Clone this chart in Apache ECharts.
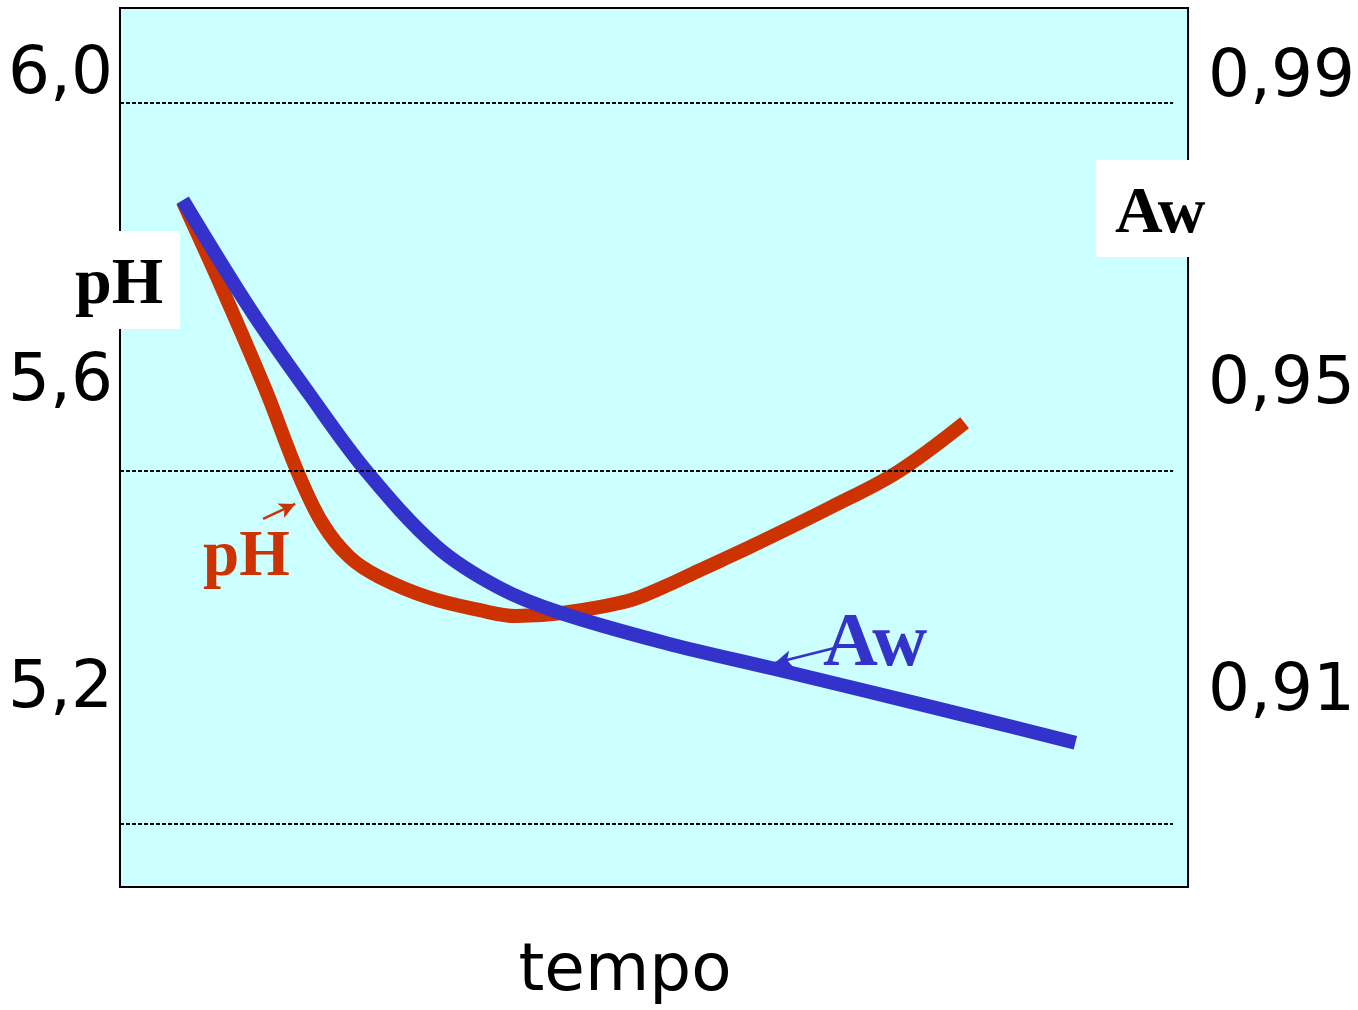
<!DOCTYPE html>
<html>
<head>
<meta charset="utf-8">
<script src="https://cdn.jsdelivr.net/npm/echarts@6/dist/echarts.min.js"></script>
<style>
html,body{margin:0;padding:0;background:#fff;}
#chart{width:1358px;height:1010px;}
</style>
</head>
<body>
<div id="chart"></div>
<script>
// time axis (arbitrary units 0..100)
const phTime = [5.88, 9.62, 13.63, 16.62, 18.95, 21.48, 24.28, 28.94, 33.61, 37.07, 41.36, 47.62, 51.07, 54.15, 58.82, 66.57, 72.83, 79.08];
const phValues = [5.831, 5.716, 5.586, 5.479, 5.412, 5.368, 5.342, 5.315, 5.299, 5.291, 5.295, 5.311, 5.330, 5.350, 5.380, 5.433, 5.479, 5.543];
const awTime = [5.88, 12.42, 17.74, 23.06, 29.69, 35.48, 41.08, 51.07, 61.34, 69.09, 79.37, 89.45];
const awValues = [0.9737, 0.9590, 0.9484, 0.9384, 0.9285, 0.9232, 0.9200, 0.9160, 0.9126, 0.9100, 0.9065, 0.9030];
const phTicks = [5.2, 5.6, 6.0];
const awTicks = [0.91, 0.95, 0.99];
const gridLevels = [5.96, 5.48, 5.02];
const phArrow = [[13.4, 5.4176], [16.4, 5.4371]];
const awArrow = [[66.9, 0.91534], [61.3, 0.91339]];

const RED = '#CC3300', BLUE = '#3333CC';
const SERIF = '"Liberation Serif", "Times New Roman", Times, serif';
const tickRich = {t: {fontFamily: 'DejaVu Sans', fontSize: 66, color: '#000', padding: [8, 0, 0, 0]}};

const chart = echarts.init(document.getElementById('chart'));
chart.setOption({
  animation: false,
  backgroundColor: '#ffffff',
  grid: {left: 120, top: 8, width: 1071, height: 879, show: true,
         backgroundColor: '#CCFFFF', borderColor: '#000', borderWidth: 2},
  xAxis: {type: 'value', min: 0, max: 100, axisLine: {show: false}, axisTick: {show: false},
          axisLabel: {show: false}, splitLine: {show: false}},
  yAxis: [
    {type: 'value', min: 4.938, max: 6.0834, position: 'left',
     axisLine: {show: false}, axisTick: {show: false}, splitLine: {show: false},
     axisLabel: {customValues: phTicks, margin: 7, color: '#000',
                 fontFamily: 'DejaVu Sans', fontSize: 66, rich: tickRich,
                 formatter: v => '{t|' + v.toFixed(1).replace('.', ',') + '}'}},
    {type: 'value', min: 0.8842, max: 0.99873, position: 'right',
     axisLine: {show: false}, axisTick: {show: false}, splitLine: {show: false},
     axisLabel: {customValues: awTicks, margin: 20, color: '#000',
                 fontFamily: 'DejaVu Sans', fontSize: 66, rich: tickRich,
                 formatter: v => '{t|' + v.toFixed(2).replace('.', ',') + '}'}}
  ],
  series: [
    {type: 'line', yAxisIndex: 0, smooth: 0.35, symbol: 'none',
     lineStyle: {color: RED, width: 14, cap: 'butt'},
     data: phTime.map((t, i) => [t, phValues[i]]),
     markLine: {silent: true, symbol: 'none', label: {show: false},
       data: gridLevels.map(g => [{coord: [0, g], lineStyle: {color: '#000', width: 2, type: [4, 2]}}, {coord: [98.6, g]}])
         .concat([[{coord: phArrow[0], symbol: 'none'}, {coord: phArrow[1], symbol: 'arrow', symbolSize: [12, 16], lineStyle: {color: RED, width: 2.5, type: 'solid'}}]]),
       lineStyle: {color: '#000', width: 2, type: [4, 2]}}
    },
    {type: 'line', yAxisIndex: 1, smooth: 0.35, symbol: 'none',
     lineStyle: {color: BLUE, width: 14, cap: 'butt'},
     data: awTime.map((t, i) => [t, awValues[i]]),
     markLine: {silent: true, symbol: 'none', label: {show: false},
       data: [[{coord: awArrow[0], symbol: 'none'}, {coord: awArrow[1], symbol: 'arrow', symbolSize: [13, 17]}]],
       lineStyle: {color: BLUE, width: 2.5, type: 'solid'}}
    }
  ],
  graphic: [
    {type: 'rect', z: 100, shape: {x: 60, y: 231, width: 120, height: 98}, style: {fill: '#fff'}},
    {type: 'rect', z: 100, shape: {x: 1096, y: 160, width: 116, height: 97}, style: {fill: '#fff'}},
    {type: 'text', z: 101, style: {x: 75, y: 286, text: 'pH', fontFamily: SERIF, fontWeight: 'bold', fontSize: 66, fill: '#000', verticalAlign: 'middle'}},
    {type: 'text', z: 101, style: {x: 1115, y: 215, text: 'Aw', fontFamily: SERIF, fontWeight: 'bold', fontSize: 66, fill: '#000', verticalAlign: 'middle'}},
    {type: 'text', z: 101, style: {x: 203, y: 558, text: 'pH', fontFamily: SERIF, fontWeight: 'bold', fontSize: 65, fill: RED, verticalAlign: 'middle'}},
    {type: 'text', z: 101, style: {x: 823, y: 645, text: 'Aw', fontFamily: SERIF, fontWeight: 'bold', fontSize: 76, fill: BLUE, verticalAlign: 'middle'}},
    {type: 'text', z: 101, style: {x: 625, y: 973, text: 'tempo', fontFamily: 'DejaVu Sans', fontSize: 66, fill: '#000', align: 'center', verticalAlign: 'middle'}}
  ]
});
</script>
</body>
</html>
